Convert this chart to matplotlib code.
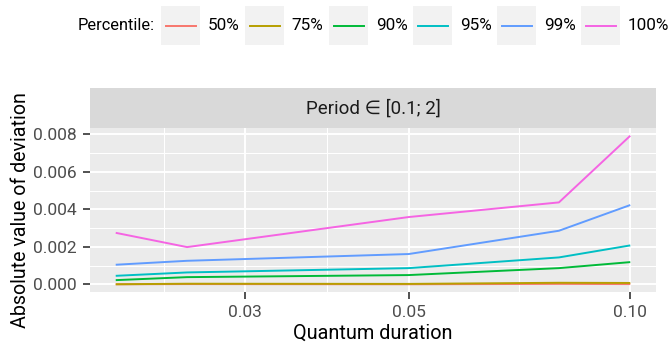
import numpy as np
import matplotlib
matplotlib.use("Agg")
import matplotlib.pyplot as plt
from matplotlib.patches import Rectangle
from matplotlib.lines import Line2D

plt.rcParams['font.family'] = ['Roboto', 'DejaVu Sans']

# quantum durations (log x axis) and deviation per percentile
quantum = [0.02, 0.025, 0.05, 0.08, 0.10]
percentiles = ['50%', '75%', '90%', '95%', '99%', '100%']
colors = ['#F8766D', '#B79F00', '#00BA38', '#00BFC4', '#619CFF', '#F564E3']
dev_50 = [0.00001, 0.00002, 0.00001, 0.00003, 0.00002]
dev_75 = [0.00001, 0.00004, 0.00003, 0.00009, 0.00008]
dev_90 = [0.00023, 0.00039, 0.00050, 0.00087, 0.00119]
dev_95 = [0.00046, 0.00064, 0.00087, 0.00144, 0.00208]
dev_99 = [0.00105, 0.00126, 0.00162, 0.00286, 0.00423]
dev_100 = [0.00275, 0.00199, 0.00359, 0.00437, 0.00792]
deviations = [dev_50, dev_75, dev_90, dev_95, dev_99, dev_100]

x_breaks = [0.03, 0.05, 0.10]
x_labels = ['0.03', '0.05', '0.10']
y_breaks = [0.000, 0.002, 0.004, 0.006, 0.008]
y_labels = ['0.000', '0.002', '0.004', '0.006', '0.008']

W, H = 670, 345
fig = plt.figure(figsize=(W / 100, H / 100), dpi=100)

# panel and strip, in pixel boxes
pl, pr, pt, pb = 90, 656, 128.3, 291.7
strip_top = 88.3
ax = fig.add_axes([pl / W, 1 - pb / H, (pr - pl) / W, (pb - pt) / H])
sax = fig.add_axes([pl / W, 1 - pt / H, (pr - pl) / W, (pt - strip_top) / H])

ax.set_facecolor('#EBEBEB')
for s in ax.spines.values():
    s.set_visible(False)

for vals, c in zip(deviations, colors):
    ax.plot(quantum, vals, color=c, lw=1.4, solid_capstyle='butt', zorder=3)

ax.set_xscale('log')
lx = np.log10(quantum)
span = lx.max() - lx.min()
ax.set_xlim(10 ** (lx.min() - 0.05 * span), 10 ** (lx.max() + 0.05 * span))
allv = np.concatenate(deviations)
yspan = allv.max() - allv.min()
ax.set_ylim(allv.min() - 0.05 * yspan, allv.max() + 0.05 * yspan)

# grid: major on breaks, minor halfway between them
lb = np.log10(x_breaks)
x_minor = [10 ** (lb[0] - (lb[1] - lb[0]) / 2)] + [10 ** ((a + b) / 2) for a, b in zip(lb[:-1], lb[1:])]
y_minor = [(a + b) / 2 for a, b in zip(y_breaks[:-1], y_breaks[1:])]
for xm in x_minor:
    ax.axvline(xm, color='white', lw=0.75, zorder=1)
for ym in y_minor:
    ax.axhline(ym, color='white', lw=0.75, zorder=1)
for xb in x_breaks:
    ax.axvline(xb, color='white', lw=1.4, zorder=1)
for yb in y_breaks:
    ax.axhline(yb, color='white', lw=1.4, zorder=1)

ax.set_xticks(x_breaks)
ax.set_xticklabels(x_labels)
ax.xaxis.set_minor_locator(matplotlib.ticker.NullLocator())
ax.set_yticks(y_breaks)
ax.set_yticklabels(y_labels)
ax.tick_params(axis='both', length=5, width=1.2, color='#333333',
               labelcolor='#4D4D4D', labelsize=12.5, pad=4.5)

ax.set_xlabel('Quantum duration', fontsize=14.3, color='black', labelpad=3)
ax.set_ylabel('Absolute value of deviation', fontsize=14.1, color='black', labelpad=2)

# facet strip
sax.set_facecolor('#D9D9D9')
sax.set_xticks([])
sax.set_yticks([])
for s in sax.spines.values():
    s.set_visible(False)
sax.text(0.5, 0.5, 'Period \u2208 [0.1; 2]', ha='center', va='center',
         fontsize=13.5, color='#1A1A1A', transform=sax.transAxes)

# legend across the top
ly = 1 - 25.5 / H
fig.text(155 / W, ly, 'Percentile:', ha='right', va='center', fontsize=11.8, color='black')
key_w, key_h = 39, 39
for i, (lab, c) in enumerate(zip(percentiles, colors)):
    kx = 161 + i * 84.06
    fig.patches.append(Rectangle((kx / W, 1 - 45 / H), key_w / W, key_h / H,
                                 transform=fig.transFigure, facecolor='#F2F2F2',
                                 edgecolor='none'))
    fig.lines.append(Line2D([(kx + 4.5) / W, (kx + key_w - 4.5) / W], [ly, ly],
                            transform=fig.transFigure, color=c, lw=1.4))
    fig.text((kx + 46.7) / W, ly, lab, ha='left', va='center', fontsize=12.3, color='black')

plt.savefig('out.png', dpi=100)
